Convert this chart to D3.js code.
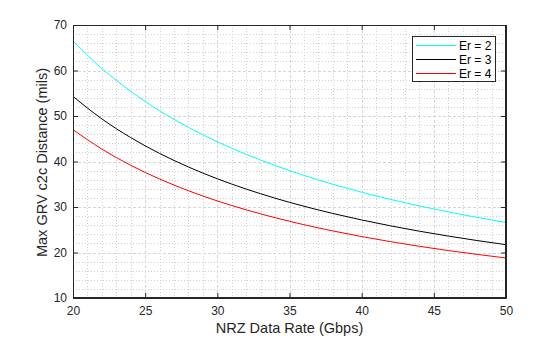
<!DOCTYPE html>
<html><head><meta charset="utf-8">
<script src="https://cdn.jsdelivr.net/npm/d3@7"></script>
<style>body{margin:0;background:#fff}svg{display:block}</style>
</head><body>
<script>
const rates = [20,22,24,26,28,30,32,34,36,38,40,42,44,46,48,50];
const er2 = [66.5,60.45,55.42,51.15,47.5,44.33,41.56,39.12,36.94,35.0,33.25,31.67,30.23,28.91,27.71,26.6];
const er3 = [54.3,49.36,45.25,41.77,38.79,36.2,33.94,31.94,30.17,28.58,27.15,25.86,24.68,23.61,22.63,21.72];
const er4 = [47.0,42.73,39.17,36.15,33.57,31.33,29.38,27.65,26.11,24.74,23.5,22.38,21.36,20.43,19.58,18.8];
const seriesNames = ["Er = 2","Er = 3","Er = 4"];
const seriesColors = ["#00ffff","#000000","#ff0000"];
const xTicks = [20,25,30,35,40,45,50];
const yTicks = [10,20,30,40,50,60,70];

const W=560,H=337, L=73,R=506,T=25,B=298;
const svg=d3.select("body").append("svg").attr("width",W).attr("height",H);
const x=d3.scaleLinear().domain([20,50]).range([L,R]);
const y=d3.scaleLinear().domain([10,70]).range([B,T]);
const ink="#262626";
const font="'Liberation Sans', Arial, Helvetica, sans-serif";

// minor grid
const g=svg.append("g");
d3.range(21,50).forEach(v=>{ if(v%5) g.append("line").attr("x1",Math.round(x(v))+.5).attr("x2",Math.round(x(v))+.5).attr("y1",T).attr("y2",B)
  .attr("stroke","#d0d0d0").attr("stroke-width",1).attr("stroke-dasharray","1,2");});
d3.range(12,70,2).forEach(v=>{ if(v%10) g.append("line").attr("y1",Math.round(y(v))+.5).attr("y2",Math.round(y(v))+.5).attr("x1",L).attr("x2",R)
  .attr("stroke","#d0d0d0").attr("stroke-width",1).attr("stroke-dasharray","1,2");});
// major grid
xTicks.forEach(v=>g.append("line").attr("x1",Math.round(x(v))+.5).attr("x2",Math.round(x(v))+.5).attr("y1",T).attr("y2",B)
  .attr("stroke","#d6d6d6").attr("stroke-dasharray","3,2"));
yTicks.forEach(v=>g.append("line").attr("y1",Math.round(y(v))+.5).attr("y2",Math.round(y(v))+.5).attr("x1",L).attr("x2",R)
  .attr("stroke","#d6d6d6").attr("stroke-dasharray","3,2"));

// lines
const line=d3.line().x((d,i)=>x(rates[i])).y(d=>y(d)).curve(d3.curveMonotoneX);
[er2,er3,er4].forEach((s,i)=>svg.append("path").datum(s).attr("d",line).attr("fill","none")
  .attr("stroke",seriesColors[i]).attr("stroke-width",1));

// axes
const xa=svg.append("g").attr("transform",`translate(0,${B})`).call(d3.axisBottom(x).tickValues(xTicks).tickSizeInner(-5).tickSizeOuter(0).tickPadding(8));
const xt=svg.append("g").attr("transform",`translate(0,${T})`).call(d3.axisTop(x).tickValues(xTicks).tickSizeInner(-5).tickSizeOuter(0).tickFormat(""));
const ya=svg.append("g").attr("transform",`translate(${L},0)`).call(d3.axisLeft(y).tickValues(yTicks).tickSizeInner(-5).tickSizeOuter(0).tickPadding(6));
const yr=svg.append("g").attr("transform",`translate(${R},0)`).call(d3.axisRight(y).tickValues(yTicks).tickSizeInner(-5).tickSizeOuter(0).tickFormat(""));
[xa,xt,ya,yr].forEach(a=>{a.selectAll("path,line").attr("stroke",ink);
  a.selectAll("text").attr("fill",ink).style("font-family",font).style("font-size","12px");});
svg.append("rect").attr("x",L+.5).attr("y",T+.5).attr("width",R-L-1).attr("height",B-T-1).attr("fill","none").attr("stroke",ink);

// labels
svg.append("text").attr("x",(L+R)/2).attr("y",333).attr("text-anchor","middle").attr("fill",ink)
  .style("font-family",font).style("font-size","14.5px").text("NRZ Data Rate (Gbps)");
svg.append("text").attr("transform",`translate(47,${(T+B)/2+1}) rotate(-90)`).attr("text-anchor","middle").attr("fill",ink)
  .style("font-family",font).style("font-size","14.5px").text("Max GRV c2c Distance (mils)");

// legend
const lg=svg.append("g");
lg.append("rect").attr("x",412.5).attr("y",36.5).attr("width",83).attr("height",45).attr("fill","#fff").attr("stroke",ink);
seriesNames.forEach((n,i)=>{
  const yy=45+i*14;
  lg.append("line").attr("x1",416).attr("x2",456).attr("y1",yy+.5).attr("y2",yy+.5).attr("stroke",seriesColors[i]);
  lg.append("text").attr("x",459).attr("y",yy+4.5).attr("fill","#000").style("font-family",font).style("font-size","12px").text(n);
});
</script>
</body></html>
